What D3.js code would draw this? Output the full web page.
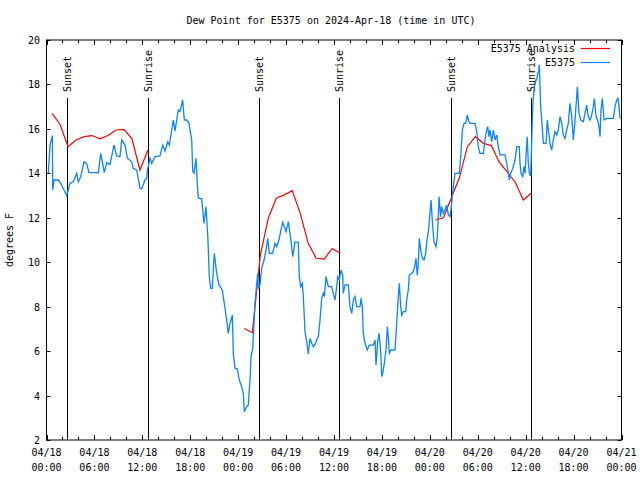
<!DOCTYPE html>
<html>
<head>
<meta charset="utf-8">
<script src="https://cdn.jsdelivr.net/npm/d3@7"></script>
<style>
html,body{margin:0;padding:0;background:#fff;}
svg text{font-family:"DejaVu Sans Mono",monospace;font-size:10px;fill:#000;}
</style>
</head>
<body>
<svg id="chart" width="640" height="480"></svg>
<script>
// ---- data (hours since 2024-04-18 00:00 UTC) ----
const title = "Dew Point for E5375 on 2024-Apr-18 (time in UTC)";
const yLabel = "degrees F";
const seriesNames = ["E5375 Analysis", "E5375"];
const yTicks = [2,4,6,8,10,12,14,16,18,20];

const analysisHours = [0.7,1.7,2.7,3.7,4.7,5.7,6.7,7.7,8.7,9.7,10.7,11.7,12.7, null,
  24.77,25.77,26.77,27.77,28.77,29.77,30.77,31.77,32.77,33.77,34.77,35.77,36.77, null,
  48.7,49.7,50.7,51.7,52.7,53.7,54.7,55.7,56.7,57.7,58.7,59.7,60.7];
const analysisValues = [16.7,16.2,15.2,15.5,15.65,15.7,15.55,15.7,15.95,15.98,15.55,14.15,15.05, null,
  7.02,6.83,10.3,11.98,12.88,13.03,13.22,12.2,10.85,10.18,10.14,10.62,10.4, null,
  11.9,12.0,12.9,13.8,15.2,15.65,15.35,15.25,14.5,14.05,13.6,12.8,13.1];

const obsHours = [0.23,0.44,0.73,0.78,0.94,1.48,1.78,2.53,2.94,3.36,3.78,3.98,4.28,4.70,5.03,5.32,6.49,6.79,7.24,7.54,7.95,8.45,8.79,9.20,9.42,9.83,10.12,10.67,10.87,11.29,11.71,11.92,12.33,12.55,12.62,12.96,13.17,13.59,14.21,14.55,14.84,15.18,15.38,15.68,15.88,16.09,16.30,16.50,16.72,17.05,17.26,17.56,17.84,18.18,18.31,18.47,18.72,18.88,19.01,19.43,19.72,19.97,20.19,20.39,20.56,20.76,21.01,21.31,21.60,22.01,22.26,22.56,22.76,22.98,23.27,23.39,23.60,23.89,24.14,24.44,24.64,24.77,25.07,25.27,25.48,25.61,25.82,26.11,26.32,26.45,26.52,26.73,26.95,27.24,27.49,27.70,27.90,28.32,28.61,28.83,29.11,29.36,29.58,29.78,29.99,30.28,30.49,30.70,30.83,31.12,31.53,31.66,31.83,32.03,32.16,32.37,32.58,32.78,32.99,33.21,33.41,33.62,33.83,34.04,34.25,34.46,34.66,34.79,35.00,35.29,35.71,35.91,36.13,36.34,36.46,36.66,36.88,37.09,37.16,37.38,37.79,38.00,38.22,38.42,38.63,38.84,39.26,39.38,39.54,39.67,39.88,40.17,40.42,40.92,41.14,41.26,41.47,41.64,41.76,41.89,41.97,42.10,42.30,42.51,42.68,42.80,42.93,43.14,43.64,43.85,44.05,44.18,44.35,44.48,44.68,44.98,45.10,45.30,45.43,45.73,45.93,46.14,46.27,46.43,46.56,46.68,46.86,47.06,47.27,47.48,47.61,47.81,48.02,48.15,48.36,48.52,48.77,48.94,49.06,49.15,49.36,49.48,49.69,49.90,50.11,50.31,50.53,50.65,50.81,50.94,51.15,51.37,51.69,51.87,52.07,52.28,52.49,52.69,52.91,53.03,53.66,53.87,54.07,54.28,54.70,54.91,55.12,55.25,55.41,55.53,55.75,55.95,56.16,56.37,56.57,56.79,57.41,57.63,57.83,57.95,58.13,58.38,58.67,58.88,59.20,59.29,59.42,59.63,59.79,59.92,60.04,60.20,60.33,60.46,60.54,60.63,60.76,60.88,61.05,61.26,61.38,61.51,61.63,61.71,61.88,62.01,62.21,62.55,62.71,62.84,63.05,63.26,63.46,63.67,63.89,64.09,64.30,64.51,64.71,64.93,65.14,65.34,65.55,65.77,65.97,66.18,66.39,66.47,66.68,66.89,67.22,67.43,67.64,67.84,68.06,68.27,68.47,68.60,68.81,69.02,69.18,69.31,69.43,69.60,69.81,70.15,70.98,71.19,71.40,71.56,71.69,71.81];
const obsValues = [14.0,15.27,15.7,13.25,13.7,13.7,13.55,13.0,13.55,13.62,14.0,13.62,13.85,14.52,14.45,14.03,14.03,14.9,14.03,14.48,14.4,15.27,14.78,14.75,15.5,15.27,14.68,14.52,14.22,14.15,13.33,13.3,13.7,13.77,14.1,14.68,14.45,14.75,14.78,15.27,15.0,15.42,15.27,15.95,16.4,15.9,16.4,16.85,16.78,17.3,16.4,16.4,16.25,15.5,14.1,14.0,14.68,13.55,12.88,12.85,11.75,12.5,11.22,9.35,8.82,8.82,10.4,9.5,8.98,8.75,8.15,7.4,6.8,7.25,7.62,5.9,5.23,5.2,4.7,4.4,4.1,3.27,3.5,3.57,4.7,5.75,6.13,8.15,9.05,9.5,8.82,8.98,9.72,10.1,10.55,11.08,10.4,10.4,10.85,10.7,11.0,11.45,11.8,11.6,11.38,11.83,11.3,10.7,10.25,10.9,10.9,9.35,8.9,9.05,8.45,6.87,6.42,5.87,6.57,6.35,6.2,6.3,6.5,6.65,7.4,8.38,8.6,8.45,9.35,8.9,8.9,8.6,8.3,8.9,9.35,9.2,9.65,9.42,8.6,8.98,8.98,8.0,7.7,8.3,8.45,8.0,8.0,8.38,8.0,6.8,6.35,6.05,6.27,6.27,6.5,5.38,6.42,6.8,6.35,5.75,4.85,5.0,5.45,6.05,7.1,6.65,5.9,6.05,6.05,7.25,8.45,9.05,8.0,7.62,7.78,7.78,8.3,8.75,9.42,9.5,9.57,9.87,10.17,9.42,9.95,11.07,10.55,10.17,10.1,10.4,10.92,11.37,12.2,12.8,11.6,10.92,10.7,11.15,12.05,12.95,12.05,12.5,12.2,12.35,12.58,12.13,12.05,12.35,12.95,13.4,14.0,14.0,14.0,14.75,15.95,16.25,16.25,16.62,16.32,16.25,16.25,15.88,15.2,14.9,14.9,15.5,15.95,16.1,15.65,15.95,15.42,15.95,15.5,15.72,15.2,14.83,14.83,14.45,14.0,13.7,14.0,14.22,14.6,15.2,15.2,14.45,14.0,13.85,14.3,14.0,14.75,15.65,14.45,14.0,13.93,13.9,15.5,17.0,17.75,18.2,18.2,18.5,18.57,18.87,17.0,16.4,15.35,15.35,16.4,15.95,15.35,15.05,15.5,15.88,15.72,15.95,16.55,16.25,15.72,15.57,15.95,16.25,17.15,16.55,15.5,16.4,17.45,17.9,16.7,16.4,16.32,16.7,17.07,16.55,16.4,16.62,17.0,17.37,16.55,16.4,16.1,15.65,16.85,17.37,16.4,16.47,16.47,17.0,17.3,17.37,17.0,16.47];

const sunEvents = ["Sunset","Sunrise","Sunset","Sunrise","Sunset","Sunrise"];
const sunHours = [2.58,12.65,26.6,36.65,50.63,60.65];

// ---- drawing ----
const svg = d3.select("#chart");
const L = 46.5, R = 621.5, T = 40, B = 440;
const t0 = Date.UTC(2024,3,18,0,0);
const toDate = h => new Date(t0 + h*3600e3);
const x = d3.scaleUtc().domain([toDate(0), toDate(72)]).range([L, R]);
const y = d3.scaleLinear().domain([2,20]).range([B, T]);

// frame
svg.append("rect").attr("x",L).attr("y",T).attr("width",R-L).attr("height",B-T)
  .attr("fill","none").attr("stroke","#000").attr("stroke-width",1);

// x ticks (every 2 h minor, 6 h major) on bottom and top, inward
const minorTicks = d3.range(0,73,2).map(toDate);
minorTicks.forEach(d => {
  const h = (d - t0)/3600e3;
  const len = (h % 6 === 0) ? 5 : 3;
  const xx = Math.round(x(d)) + 0.5;
  svg.append("line").attr("x1",xx).attr("x2",xx).attr("y1",B).attr("y2",B-len).attr("stroke","#000");
  svg.append("line").attr("x1",xx).attr("x2",xx).attr("y1",T).attr("y2",T+len).attr("stroke","#000");
});
// x labels
const labTicks = d3.range(0,73,6).map(toDate);
const fmtD = d3.utcFormat("%m/%d"), fmtT = d3.utcFormat("%H:%M");
labTicks.forEach(d => {
  const g = svg.append("text").attr("x", x(d)).attr("text-anchor","middle");
  g.append("tspan").attr("x", x(d)).attr("y",456).text(fmtD(d));
  g.append("tspan").attr("x", x(d)).attr("y",471).text(fmtT(d));
});

// y ticks
yTicks.forEach(v => {
  const yy = Math.round(y(v)) + 0.5;
  svg.append("line").attr("x1",L).attr("x2",L+4).attr("y1",yy).attr("y2",yy).attr("stroke","#000");
  svg.append("line").attr("x1",R).attr("x2",R-4).attr("y1",yy).attr("y2",yy).attr("stroke","#000");
  svg.append("text").attr("x",40).attr("y",y(v)+4).attr("text-anchor","end").text(v);
});

// y label
svg.append("text").attr("transform","translate(13,240) rotate(-90)")
  .attr("text-anchor","middle").text(yLabel);

// title
svg.append("text").attr("x",331).attr("y",24).attr("text-anchor","middle").text(title);

// sun lines
sunHours.forEach((h,i) => {
  const xx = Math.round(x(toDate(h))) + 0.5;
  svg.append("line").attr("x1",xx).attr("x2",xx).attr("y1",98).attr("y2",B).attr("stroke","#000");
  svg.append("text").attr("transform",`translate(${xx+3.5},92) rotate(-90)`)
    .attr("text-anchor","start").text(sunEvents[i]);
});

// series
const obs = obsHours.map((h,i) => ({t: toDate(h), v: obsValues[i]}));
const ana = analysisHours.map((h,i) => ({t: h==null?null:toDate(h), v: analysisValues[i]}));
const line = d3.line().defined(d => d.t != null && d.v != null).x(d => x(d.t)).y(d => y(d.v));

svg.append("path").datum(ana).attr("d", line).attr("fill","none")
  .attr("stroke","#ff0000").attr("stroke-width",1.2);
svg.append("path").datum(obs).attr("d", line).attr("fill","none")
  .attr("stroke","#0a84ff").attr("stroke-width",1.3);

// legend
const colors = ["#ff0000","#0a84ff"];
seriesNames.forEach((n,i) => {
  const yy = 52 + i*14;
  svg.append("text").attr("x",575).attr("y",yy).attr("text-anchor","end").text(n);
  svg.append("line").attr("x1",581).attr("x2",610).attr("y1",yy-3.5).attr("y2",yy-3.5)
    .attr("stroke",colors[i]).attr("stroke-width",1.2);
});
</script>
</body>
</html>
